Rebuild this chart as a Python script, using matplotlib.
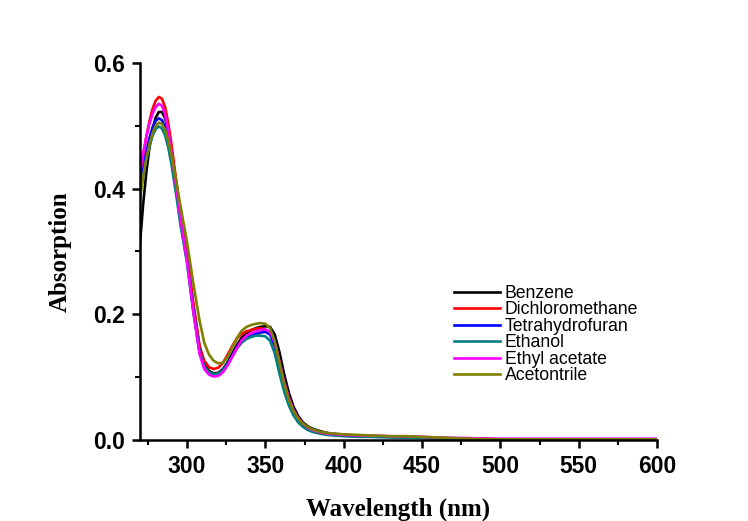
import matplotlib
matplotlib.use("Agg")
import matplotlib.pyplot as plt
from matplotlib.ticker import MultipleLocator

# Absorption spectra
wavelength = [270, 272, 274, 276, 278, 280, 282, 284, 286, 288, 290, 293, 296, 300,
              304, 308, 311, 314, 317, 320, 323, 326, 329, 332, 335, 338, 341, 344,
              347, 350, 353, 356, 359, 362, 365, 368, 371, 374, 377, 380, 385, 390,
              400, 410, 420, 430, 440, 450, 460, 480, 500, 550, 600]

benzene = [0.313, 0.375, 0.425, 0.465, 0.495, 0.513, 0.522, 0.522, 0.512, 0.492, 0.462, 0.410, 0.355, 0.295,
           0.215, 0.148, 0.122, 0.110, 0.106, 0.107, 0.113, 0.124, 0.138, 0.152, 0.163, 0.170, 0.175, 0.178,
           0.180, 0.181, 0.180, 0.168, 0.140, 0.105, 0.075, 0.053, 0.038, 0.028, 0.022, 0.018, 0.014, 0.011,
           0.008, 0.007, 0.006, 0.005, 0.005, 0.004, 0.003, 0.002, 0.001, 0.001, 0.001]

dichloromethane = [0.418, 0.452, 0.482, 0.507, 0.527, 0.540, 0.546, 0.543, 0.530, 0.505, 0.472, 0.415, 0.360, 0.297,
                   0.218, 0.150, 0.126, 0.116, 0.113, 0.115, 0.123, 0.136, 0.150, 0.162, 0.169, 0.173, 0.175, 0.177,
                   0.178, 0.176, 0.170, 0.150, 0.118, 0.088, 0.063, 0.045, 0.033, 0.025, 0.020, 0.016, 0.012, 0.010,
                   0.008, 0.007, 0.006, 0.005, 0.005, 0.004, 0.003, 0.002, 0.001, 0.001, 0.001]

thf = [0.403, 0.432, 0.458, 0.480, 0.497, 0.508, 0.512, 0.509, 0.498, 0.478, 0.450, 0.400, 0.345, 0.285,
       0.207, 0.140, 0.117, 0.107, 0.104, 0.105, 0.111, 0.122, 0.135, 0.148, 0.158, 0.164, 0.167, 0.169,
       0.171, 0.172, 0.168, 0.150, 0.118, 0.087, 0.062, 0.044, 0.032, 0.024, 0.019, 0.015, 0.011, 0.009,
       0.007, 0.006, 0.005, 0.005, 0.004, 0.004, 0.003, 0.002, 0.001, 0.001, 0.001]

ethanol = [0.392, 0.420, 0.446, 0.467, 0.484, 0.495, 0.499, 0.496, 0.485, 0.466, 0.440, 0.392, 0.340, 0.282,
           0.205, 0.140, 0.117, 0.108, 0.105, 0.106, 0.111, 0.121, 0.133, 0.146, 0.155, 0.161, 0.164, 0.166,
           0.166, 0.165, 0.158, 0.138, 0.106, 0.077, 0.055, 0.039, 0.028, 0.021, 0.016, 0.013, 0.010, 0.008,
           0.006, 0.005, 0.005, 0.004, 0.004, 0.003, 0.002, 0.001, 0.001, 0.001, 0.001]

ethyl_acetate = [0.425, 0.456, 0.482, 0.503, 0.519, 0.530, 0.535, 0.532, 0.518, 0.493, 0.460, 0.405, 0.350, 0.285,
                 0.205, 0.137, 0.113, 0.104, 0.101, 0.102, 0.108, 0.119, 0.133, 0.147, 0.159, 0.166, 0.170, 0.173,
                 0.175, 0.176, 0.172, 0.156, 0.125, 0.093, 0.067, 0.048, 0.035, 0.026, 0.020, 0.016, 0.012, 0.010,
                 0.008, 0.007, 0.007, 0.006, 0.006, 0.005, 0.004, 0.003, 0.002, 0.002, 0.002]

acetonitrile = [0.385, 0.418, 0.447, 0.470, 0.488, 0.500, 0.505, 0.503, 0.494, 0.477, 0.455, 0.414, 0.370, 0.315,
                0.250, 0.190, 0.155, 0.136, 0.126, 0.122, 0.123, 0.132, 0.148, 0.163, 0.174, 0.180, 0.183, 0.185,
                0.186, 0.185, 0.178, 0.157, 0.123, 0.090, 0.064, 0.046, 0.034, 0.026, 0.021, 0.017, 0.013, 0.011,
                0.009, 0.008, 0.007, 0.006, 0.006, 0.005, 0.004, 0.002, 0.001, 0.001, 0.001]

series = [
    ("Benzene", benzene, "#000000"),
    ("Dichloromethane", dichloromethane, "#ff0000"),
    ("Tetrahydrofuran", thf, "#0000ff"),
    ("Ethanol", ethanol, "#008080"),
    ("Ethyl acetate", ethyl_acetate, "#ff00ff"),
    ("Acetontrile", acetonitrile, "#808000"),
]

fig = plt.figure(figsize=(7.48, 5.21), dpi=100)
ax = fig.add_axes([140 / 748, 81 / 521, 517 / 748, 377 / 521])

for name, values, color in series:
    ax.plot(wavelength, values, color=color, lw=1.9, label=name)

ax.set_xlim(270, 600)
ax.set_ylim(0, 0.6)
ax.xaxis.set_major_locator(MultipleLocator(50))
ax.xaxis.set_minor_locator(MultipleLocator(25))
ax.yaxis.set_major_locator(MultipleLocator(0.2))
ax.yaxis.set_minor_locator(MultipleLocator(0.1))

for side in ["top", "right"]:
    ax.spines[side].set_visible(False)
for side in ["left", "bottom"]:
    ax.spines[side].set_linewidth(1.8)

ax.tick_params(which="major", direction="out", length=6, width=1.8, pad=5)
ax.tick_params(which="minor", direction="out", length=3.5, width=1.5)
for lab in ax.get_xticklabels() + ax.get_yticklabels():
    lab.set_fontfamily("Liberation Sans")
    lab.set_fontweight("bold")
    lab.set_fontsize(16.5)

ax.set_xlabel("Wavelength (nm)", family="Liberation Serif", weight="bold", fontsize=18, labelpad=14)
ax.set_ylabel("Absorption", family="Liberation Serif", weight="bold", fontsize=18, labelpad=15)

ax.legend(loc="upper left", bbox_to_anchor=(445 / 748, 1 - 276 / 521), bbox_transform=fig.transFigure,
          frameon=False, borderpad=0, handlelength=2.6, handletextpad=0.3, labelspacing=-0.03,
          prop={"family": "Liberation Sans", "size": 12.7})

fig.savefig("out.png", dpi=100, facecolor="white")
